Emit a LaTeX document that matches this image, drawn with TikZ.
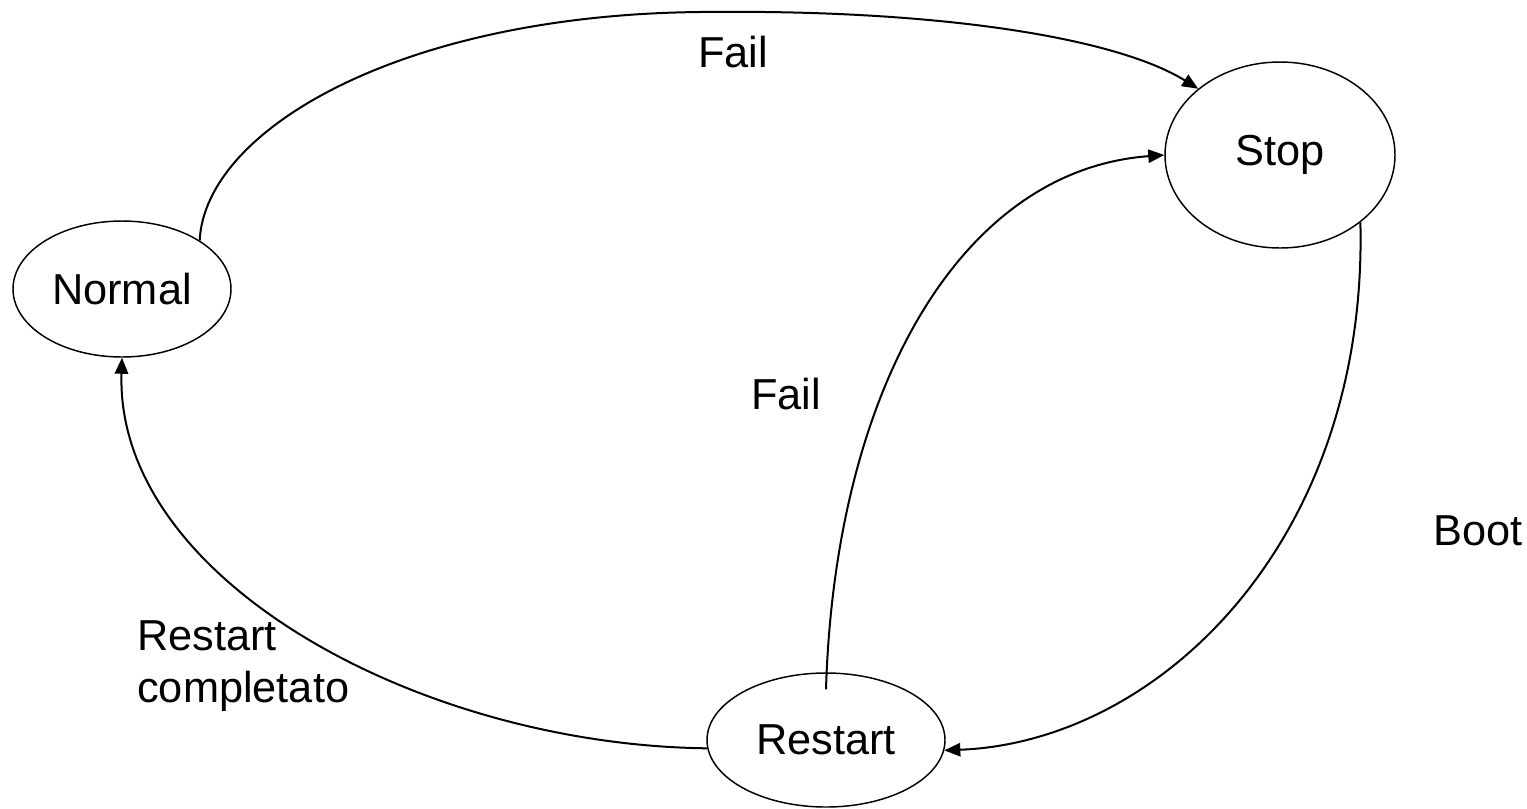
\documentclass[tikz,border=0pt]{standalone}
\usepackage{fontspec}
\setmainfont{Liberation Sans}
\usetikzlibrary{shapes.geometric,arrows.meta}
\begin{document}
\begin{tikzpicture}[x=0.75pt,y=-0.75pt,
  state/.style={ellipse,draw,line width=1.1pt,inner sep=0pt,font=\fontsize{32.5}{39}\selectfont},
  edge/.style={line width=1.5pt,-{Triangle[length=12pt,width=10pt]}},
  lbl/.style={font=\fontsize{32.5}{39}\selectfont,inner sep=0pt}]
\useasboundingbox (0,0) rectangle (1527,808);
\node[state,minimum width=163.5pt,minimum height=102pt] (normal) at (122,289) {Normal};
\node[state,minimum width=172.5pt,minimum height=139.5pt] (stop) at (1280,155) {Stop};
\node[state,minimum width=178.5pt,minimum height=100.5pt] (restart) at (826,740) {Restart};
\coordinate (peak) at (700,12);
\draw[edge] (normal.32) .. controls (205,130) and (400,15) .. (peak)
  .. controls (950,9) and (1120,40) .. (stop.141);
\draw[edge] ([yshift=-12.75pt]restart.north) .. controls (835,390) and (960,170) .. (stop.west);
\draw[edge] (stop.-40) .. controls (1368,540) and (1160,742) .. (restart.-5);
\draw[edge] (restart.184) .. controls (420,745) and (115,580) .. (normal.south);
\node[lbl] (l1) at (733,52) {Fail};
\node[lbl] (l2) at (786,394) {Fail};
\node[lbl] (l3) at (1478,531) {Boot};
\node[lbl,align=left,anchor=north west] (l4) at (137,620) {Restart\\completato};
\end{tikzpicture}
\end{document}
